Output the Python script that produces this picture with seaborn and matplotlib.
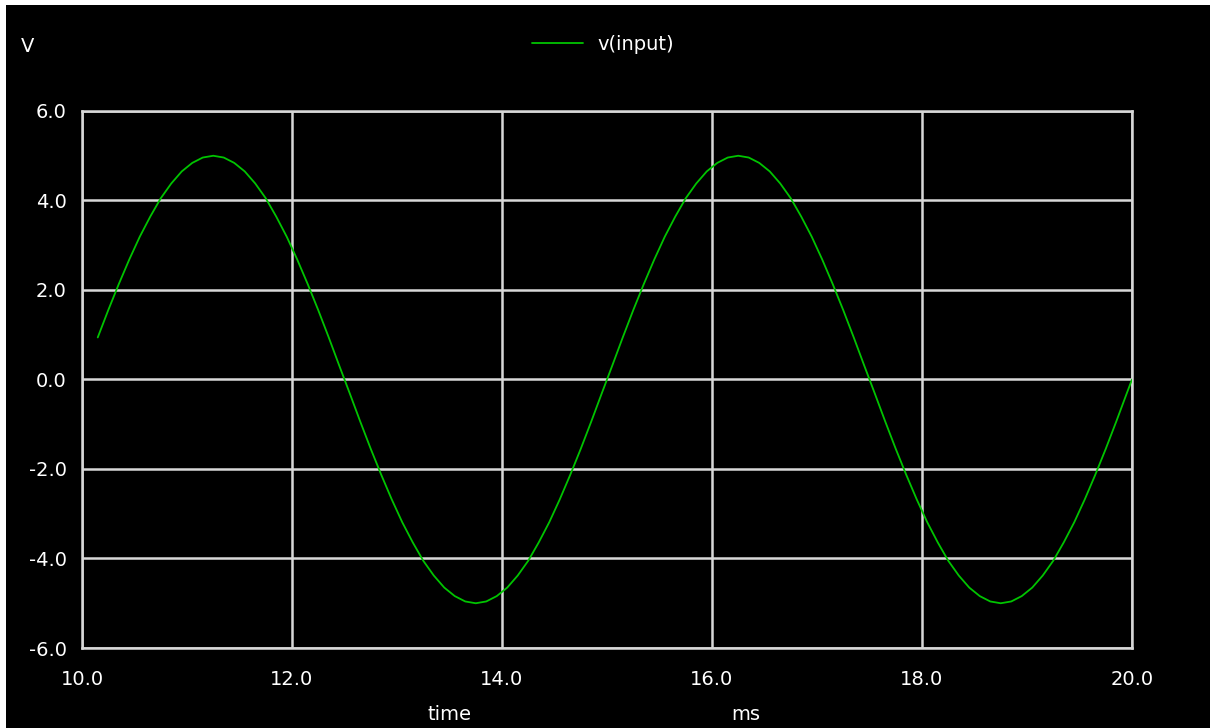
import numpy as np
import pandas as pd
import seaborn as sns
import matplotlib
matplotlib.use("Agg")
import matplotlib.pyplot as plt
from matplotlib.patches import Rectangle

# ---- data ----
time_ms = [round(10.15 + 0.1 * k, 2) for k in range(99)] + [20.0]
cycle = [0.94, 1.55, 2.13, 2.68, 3.19, 3.64, 4.05, 4.38, 4.65, 4.84,
         4.96, 5.00, 4.96, 4.84, 4.65, 4.38, 4.05, 3.64, 3.19, 2.68,
         2.13, 1.55, 0.94, 0.31, -0.31, -0.94, -1.55, -2.13, -2.68, -3.19,
         -3.64, -4.05, -4.38, -4.65, -4.84, -4.96, -5.00, -4.96, -4.84, -4.65,
         -4.38, -4.05, -3.64, -3.19, -2.68, -2.13, -1.55, -0.94, -0.31, 0.31]
v_input = cycle + cycle[:49] + [0.0]
x_ticks = [10.0, 12.0, 14.0, 16.0, 18.0, 20.0]
y_ticks = [-6.0, -4.0, -2.0, 0.0, 2.0, 4.0, 6.0]
series_name = "v(input)"

df = pd.DataFrame({"time": time_ms, "v": v_input})

sns.set_style("dark")
plt.rcParams["font.family"] = ["DejaVu Sans"]
FS = 14

W, H = 1210, 728
fig = plt.figure(figsize=(W / 100, H / 100), dpi=100, facecolor="white")
fig.patches.append(Rectangle((6 / W, 0), 1 - 6 / W, 1 - 5 / H, transform=fig.transFigure,
                             facecolor="black", edgecolor="none", zorder=-10))
ax = fig.add_axes([82 / W, 1 - 648 / H, (1132 - 82) / W, (648 - 111) / H])
ax.set_facecolor("black")

sns.lineplot(data=df, x="time", y="v", ax=ax, color="#00c400", linewidth=1.3,
             label=series_name, zorder=3)

ax.set_xlim(10.0, 20.0)
ax.set_ylim(-6.0, 6.0)
ax.set_xticks(x_ticks)
ax.set_yticks(y_ticks)
ax.set_xticklabels([f"{t:.1f}" for t in x_ticks])
ax.set_yticklabels([f"{t:.1f}" for t in y_ticks])
ax.grid(True, color="#d8d8d8", linewidth=1.8, zorder=1)
ax.set_axisbelow(True)
for s in ax.spines.values():
    s.set_visible(True)
    s.set_color("#d8d8d8")
    s.set_linewidth(1.8)
ax.tick_params(axis="x", length=0, pad=16, colors="white", labelsize=FS)
ax.tick_params(axis="y", length=0, pad=11, colors="white", labelsize=FS)
ax.set_xlabel("")
ax.set_ylabel("")

leg = ax.legend(loc="center", bbox_to_anchor=(603 / W, 1 - 44 / H),
                bbox_transform=fig.transFigure, frameon=False, fontsize=FS,
                handlelength=2.6, handletextpad=0.72, labelcolor="white")

fig.text(28 / W, 1 - 46 / H, "V", color="white", fontsize=FS, ha="center", va="center")
fig.text(449 / W, 1 - 714 / H, "time", color="white", fontsize=FS, ha="center", va="center")
fig.text(746 / W, 1 - 714 / H, "ms", color="white", fontsize=FS, ha="center", va="center")

fig.savefig("out.png", dpi=100, facecolor=fig.get_facecolor())
